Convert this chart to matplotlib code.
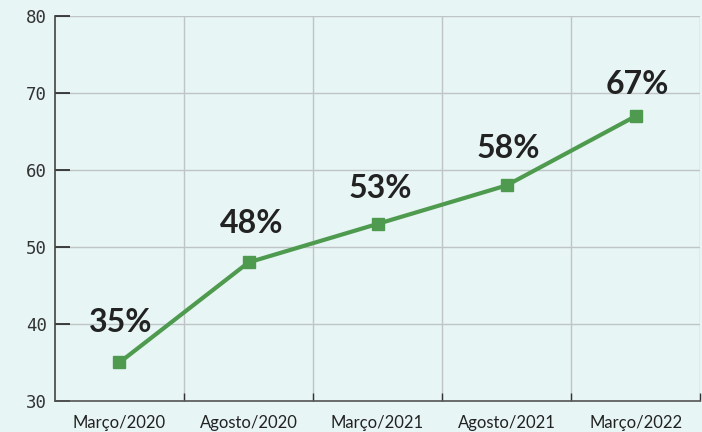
import matplotlib
matplotlib.use("Agg")
import matplotlib.pyplot as plt
import numpy as np

# data
periods = ["Março/2020", "Agosto/2020", "Março/2021", "Agosto/2021", "Março/2022"]
values = [35, 48, 53, 58, 67]
labels = ["35%", "48%", "53%", "58%", "67%"]
# label baseline offset above each point (points)
label_dy = [22, 21.5, 18.5, 20, 16]
label_dx = [1, 2, 2, 1.5, 1]

bg = "#e8f5f5"
green = "#4e9a4e"

fig = plt.figure(figsize=(7.02, 4.32), dpi=100, facecolor=bg)
ax = fig.add_axes([0.0783, 0.0718, 0.919, 0.891])
ax.set_facecolor(bg)

x = np.arange(len(periods))
ax.plot(x, values, color=green, linewidth=3, marker="s", markersize=9, zorder=3)

for xi, v, t, dx, dy in zip(x, values, labels, label_dx, label_dy):
    ax.annotate(t, (xi, v), xytext=(dx, dy), textcoords="offset points",
                ha="center", va="baseline", fontsize=23, fontweight="bold",
                color="#222222", family="Lato")

# limits
ax.set_xlim(-0.5, 4.5)
ax.set_ylim(30, 80)

# ticks
ax.set_xticks(x)
ax.set_xticklabels(periods, fontsize=12, color="#222222", family="Lato")
ax.set_xticks(np.arange(0.5, 5, 1), minor=True)
ax.tick_params(axis="x", which="major", length=0, pad=10)
ax.tick_params(axis="x", which="minor", direction="in", length=6, width=1, color="#333333")
ax.set_yticks(np.arange(30, 81, 10))
ax.tick_params(axis="y", direction="in", length=11, width=1.2, color="#222222",
               labelsize=12.5, labelcolor="#333333", pad=6)
for lab in ax.get_yticklabels():
    lab.set_family("DejaVu Sans Mono")

# grid
ax.grid(axis="y", which="major", color="#bfc5c5", linewidth=1)
ax.grid(axis="x", which="minor", color="#bfc5c5", linewidth=1)

# spines
ax.spines["right"].set_color("none")
ax.spines["top"].set_color("none")
ax.spines["left"].set_color("#444444")
ax.spines["bottom"].set_color("#555555")
ax.spines["left"].set_linewidth(1.2)
ax.spines["bottom"].set_linewidth(1.2)

plt.savefig("out.png", dpi=100, facecolor=bg)
